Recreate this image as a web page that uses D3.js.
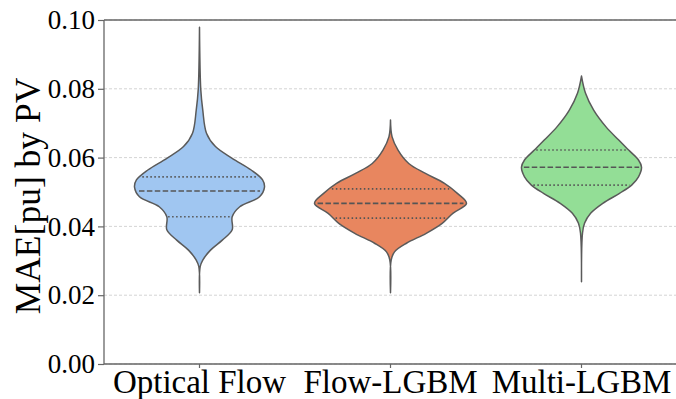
<!DOCTYPE html>
<html>
<head>
<meta charset="utf-8">
<script src="https://cdn.jsdelivr.net/npm/d3@7"></script>
<style>
  html, body { margin: 0; padding: 0; background: #fff; }
  svg { display: block; }
</style>
</head>
<body>
<svg id="chart" width="676" height="399"></svg>
<script>
// Model categories
const categories = ["Optical Flow", "Flow-LGBM", "Multi-LGBM"];
const fillColors = ["#a0c6f1", "#e8865f", "#93de96"];
const yTicks = [0.00, 0.02, 0.04, 0.06, 0.08, 0.10];

// Kernel density profiles: MAE value and relative density at that value
const opticalValues  = [0.0979, 0.0797, 0.0738, 0.0671, 0.0632, 0.0598, 0.0564, 0.0535, 0.0514, 0.0486, 0.0457, 0.0428, 0.0390, 0.0360, 0.0331, 0.0302, 0.0283, 0.0207];
const opticalDensity = [0.000, 0.017, 0.043, 0.092, 0.210, 0.430, 0.680, 0.830, 0.855, 0.790, 0.530, 0.430, 0.430, 0.300, 0.145, 0.043, 0.009, 0.000];

const flowValues  = [0.0709, 0.0661, 0.0622, 0.0583, 0.0554, 0.0525, 0.0496, 0.0467, 0.0438, 0.0409, 0.0380, 0.0351, 0.0326, 0.0302, 0.0207];
const flowDensity = [0.000, 0.020, 0.099, 0.240, 0.460, 0.710, 0.880, 1.000, 0.820, 0.680, 0.470, 0.210, 0.053, 0.009, 0.000];

const multiValues  = [0.0837, 0.0787, 0.0738, 0.0690, 0.0651, 0.0622, 0.0593, 0.0572, 0.0544, 0.0520, 0.0496, 0.0467, 0.0438, 0.0409, 0.0380, 0.0239];
const multiDensity = [0.000, 0.053, 0.160, 0.320, 0.490, 0.620, 0.750, 0.790, 0.750, 0.660, 0.500, 0.280, 0.120, 0.040, 0.013, 0.000];

// Quartiles (Q1, median, Q3) per model
const q1Values     = [0.0428, 0.0424, 0.0520];
const medianValues = [0.0503, 0.0467, 0.0572];
const q3Values     = [0.0544, 0.0509, 0.0622];

const profiles = [
  { values: opticalValues, density: opticalDensity },
  { values: flowValues,    density: flowDensity },
  { values: multiValues,   density: multiDensity }
];

const SERIF = '"Liberation Serif", serif';

const svg = d3.select("#chart");
const W = 676, H = 399;
const margin = { left: 104, top: 20, bottom: 35 };
const plotRight = 677;

const x = d3.scaleBand().domain(categories).range([margin.left, plotRight]).padding(0);
const y = d3.scaleLinear().domain([0, 0.10]).range([H - margin.bottom, margin.top]);
const halfWidth = d3.scaleLinear().domain([0, 1]).range([0, 76]);

// Horizontal grid
svg.append("g")
  .selectAll("line")
  .data(yTicks)
  .join("line")
  .attr("x1", margin.left).attr("x2", plotRight)
  .attr("y1", d => y(d)).attr("y2", d => y(d))
  .attr("stroke", "#cfcfcf")
  .attr("stroke-width", 0.9)
  .attr("stroke-dasharray", "3,2");

// Interpolate density at a given value
function densityAt(p, v) {
  for (let i = 0; i < p.values.length - 1; i++) {
    const a = p.values[i], b = p.values[i + 1];
    if (v <= a && v >= b) {
      const t = (a - v) / (a - b);
      return p.density[i] + t * (p.density[i + 1] - p.density[i]);
    }
  }
  return 0;
}

const violins = svg.append("g");
categories.forEach((cat, i) => {
  const cx = x(cat) + x.bandwidth() / 2;
  const p = profiles[i];
  const pts = p.values.map((v, k) => ({ v, d: p.density[k] }));
  const area = d3.area()
    .y(d => y(d.v))
    .x0(d => cx - halfWidth(d.d))
    .x1(d => cx + halfWidth(d.d))
    .curve(d3.curveCatmullRom.alpha(0.5));
  violins.append("path")
    .attr("d", area(pts))
    .attr("fill", fillColors[i])
    .attr("stroke", "#5a5a5a")
    .attr("stroke-width", 1.5)
    .attr("stroke-linejoin", "round");

  // Quartile lines
  const qs = [
    { v: q1Values[i], dash: "1.5,2.5" },
    { v: medianValues[i], dash: "5.5,2.4" },
    { v: q3Values[i], dash: "1.5,2.5" }
  ];
  qs.forEach(q => {
    const w = halfWidth(densityAt(p, q.v)) * 0.96;
    violins.append("line")
      .attr("x1", cx - w).attr("x2", cx + w)
      .attr("y1", y(q.v)).attr("y2", y(q.v))
      .attr("stroke", "#555")
      .attr("stroke-width", 1.6)
      .attr("stroke-dasharray", q.dash);
  });
});

// Spines
const spine = svg.append("g").attr("stroke", "#666").attr("stroke-width", 1.3);
spine.append("line").attr("x1", margin.left).attr("x2", margin.left).attr("y1", y(0.10)).attr("y2", y(0));
spine.append("line").attr("x1", margin.left).attr("x2", plotRight).attr("y1", y(0.10)).attr("y2", y(0.10));
spine.append("line").attr("x1", margin.left).attr("x2", plotRight).attr("y1", y(0)).attr("y2", y(0));

// Y axis
const yAxis = svg.append("g")
  .attr("transform", `translate(${margin.left},0)`)
  .call(d3.axisLeft(y).tickValues(yTicks).tickFormat(d3.format(".2f")).tickSize(6).tickPadding(3));
yAxis.attr("font-family", null).attr("font-size", null);
yAxis.select(".domain").remove();
yAxis.selectAll(".tick line").attr("stroke", "#666").attr("stroke-width", 1.2);
yAxis.selectAll(".tick text")
  .attr("fill", "#000")
  .style("font-family", SERIF)
  .style("font-size", "27px");

// X axis
const xAxis = svg.append("g")
  .attr("transform", `translate(0,${y(0)})`)
  .call(d3.axisBottom(x).tickSize(4).tickPadding(2));
xAxis.attr("font-family", null).attr("font-size", null);
xAxis.select(".domain").remove();
xAxis.selectAll(".tick line").attr("stroke", "#666").attr("stroke-width", 1.2);
xAxis.selectAll(".tick text")
  .attr("fill", "#000")
  .style("font-family", SERIF)
  .style("font-size", "33px");

// Y label
svg.append("text")
  .attr("transform", `translate(40,${(y(0) + y(0.10)) / 2 + 4}) rotate(-90)`)
  .attr("text-anchor", "middle")
  .attr("fill", "#000")
  .style("font-family", SERIF)
  .style("font-size", "35.5px")
  .text("MAE[pu] by PV");
</script>
</body>
</html>
